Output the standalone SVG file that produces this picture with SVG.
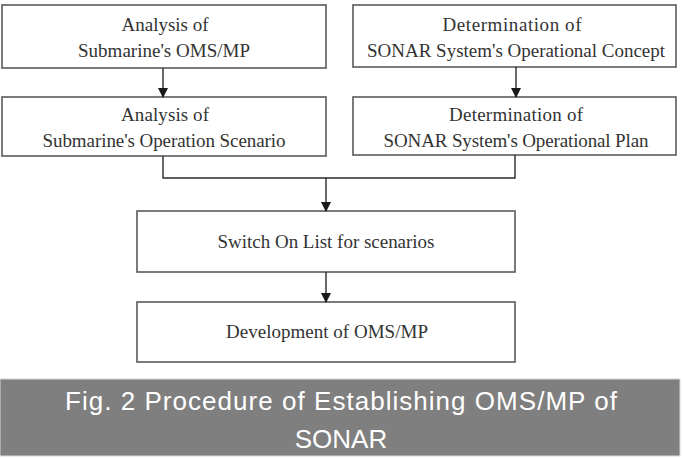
<svg xmlns="http://www.w3.org/2000/svg" width="683" height="459" viewBox="0 0 683 459">
<style>
.box{fill:#fff;stroke:#5a5a5a;stroke-width:1.6}
.t{font-family:"Liberation Serif","Times New Roman",serif;font-size:19px;fill:#333;text-anchor:middle}
.c{fill:none;stroke:#2a2a2a;stroke-width:1.4}
.cap{font-family:"Liberation Sans",Arial,sans-serif;font-size:26px;fill:#fff;text-anchor:middle}
</style>
<defs>
<marker id="ah" markerWidth="10" markerHeight="10" refX="9" refY="5" orient="auto" markerUnits="userSpaceOnUse">
<path d="M0,0 L10,5 L0,10 Z" fill="#1a1a1a"/>
</marker>
</defs>
<rect width="683" height="459" fill="#fff"/>
<g id="n1"><rect class="box" x="2" y="5" width="324" height="63"/>
<text class="t" x="165" y="31" textLength="87" lengthAdjust="spacing">Analysis of</text><text class="t" x="164" y="57" textLength="172" lengthAdjust="spacing">Submarine's OMS/MP</text></g>
<g id="n2"><rect class="box" x="2" y="97" width="324" height="59"/>
<text class="t" x="165" y="121" textLength="88" lengthAdjust="spacing">Analysis of</text><text class="t" x="164" y="147" textLength="243" lengthAdjust="spacing">Submarine's Operation Scenario</text></g>
<g id="n3"><rect class="box" x="353" y="5" width="323" height="62"/>
<text class="t" x="512" y="31" textLength="139" lengthAdjust="spacing">Determination of</text><text class="t" x="516" y="57" textLength="298" lengthAdjust="spacing">SONAR System's Operational Concept</text></g>
<g id="n4"><rect class="box" x="353" y="97" width="323" height="58"/>
<text class="t" x="516" y="121" textLength="134" lengthAdjust="spacing">Determination of</text><text class="t" x="516" y="147" textLength="265" lengthAdjust="spacing">SONAR System's Operational Plan</text></g>
<g id="n5"><rect class="box" x="137" y="211" width="378" height="61"/>
<text class="t" x="326" y="248" textLength="217" lengthAdjust="spacing">Switch On List for scenarios</text></g>
<g id="n6"><rect class="box" x="137" y="302" width="378" height="60"/>
<text class="t" x="327" y="338" textLength="202" lengthAdjust="spacing">Development of OMS/MP</text></g>
<g id="connectors">
<line class="c" x1="163" y1="68" x2="163" y2="97" marker-end="url(#ah)"/>
<line class="c" x1="516" y1="67" x2="516" y2="97" marker-end="url(#ah)"/>
<polyline class="c" points="163,156 163,178 515,178 515,155"/>
<line class="c" x1="326" y1="178" x2="326" y2="211" marker-end="url(#ah)"/>
<line class="c" x1="326" y1="272" x2="326" y2="302" marker-end="url(#ah)"/>
</g>
<g id="caption">
<rect x="0" y="379" width="680" height="77" fill="#7f7f7f" stroke="#d8d8d8" stroke-width="1"/>
<text class="cap" x="341" y="410" textLength="552" lengthAdjust="spacing">Fig. 2 Procedure of Establishing OMS/MP of</text>
<text class="cap" x="341" y="448">SONAR</text>
</g>
</svg>
